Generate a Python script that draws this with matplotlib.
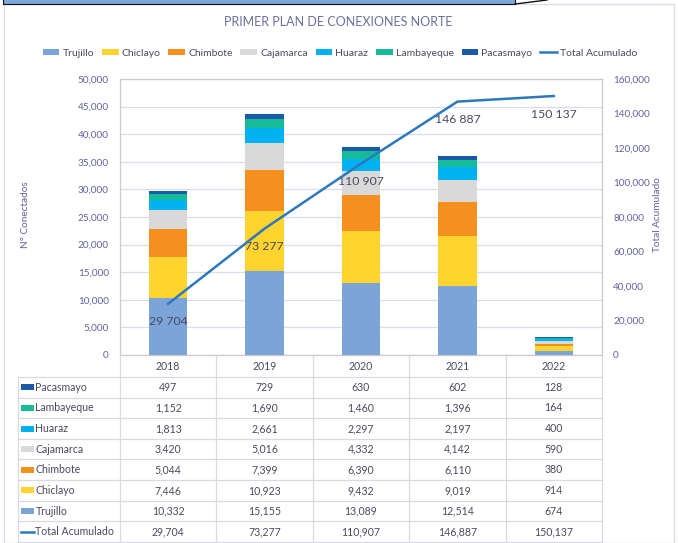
import matplotlib
matplotlib.use("Agg")
import matplotlib.pyplot as plt
import numpy as np
from matplotlib.patches import Rectangle, Patch
from matplotlib.lines import Line2D
from matplotlib.ticker import FuncFormatter, MultipleLocator

plt.rcParams['font.family'] = ['Lato', 'DejaVu Sans']

years = ['2018', '2019', '2020', '2021', '2022']
series_names = ['Trujillo', 'Chiclayo', 'Chimbote', 'Cajamarca', 'Huaraz', 'Lambayeque', 'Pacasmayo']
trujillo = [10332, 15155, 13089, 12514, 674]
chiclayo = [7446, 10923, 9432, 9019, 914]
chimbote = [5044, 7399, 6390, 6110, 380]
cajamarca = [3420, 5016, 4332, 4142, 590]
huaraz = [1813, 2661, 2297, 2197, 400]
lambayeque = [1152, 1690, 1460, 1396, 164]
pacasmayo = [497, 729, 630, 602, 128]
total_acumulado = [29704, 73277, 110907, 146887, 150137]

series_vals = [trujillo, chiclayo, chimbote, cajamarca, huaraz, lambayeque, pacasmayo]
colors = ['#7BA4D8', '#FFD42E', '#F5901F', '#D9D9D9', '#00B3F0', '#16BC9A', '#1B5AA8']
line_color = '#2E78BE'
tick_color = '#62629E'
text_color = '#4A4A60'
grid_color = '#DCDCE8'

W, H = 678, 543
def fx(px): return px / W
def fy(py): return 1 - py / H

fig = plt.figure(figsize=(W / 100, H / 100), dpi=100)

# decorations: frame and header band
fig.add_artist(Rectangle((fx(4), fy(543)), fx(674) - fx(4), fy(4) - fy(543),
                         transform=fig.transFigure, fill=False, edgecolor='#DCDCEB', lw=1.0))
fig.add_artist(Rectangle((fx(3), fy(4)), fx(515) - fx(3), fy(-2) - fy(4),
                         transform=fig.transFigure, facecolor='#7FA6D9', edgecolor='#111111', lw=0.8))
fig.add_artist(Line2D([fx(515), fx(547)], [fy(4), fy(0)], transform=fig.transFigure,
                      color='#111111', lw=1.0))

# main axes
ax = fig.add_axes([fx(120), fy(355), fx(602) - fx(120), (355 - 79) / H])
ax2 = ax.twinx()
x = np.arange(len(years))
bottom = np.zeros(len(years))
for name, vals, c in zip(series_names, series_vals, colors):
    ax.bar(x, vals, 0.4, bottom=bottom, color=c, label=name, zorder=3)
    bottom += np.array(vals)

ax.set_xlim(-0.5, len(years) - 0.5)
ax.set_ylim(0, 50000)
ax.yaxis.set_major_locator(MultipleLocator(5000))
ax.yaxis.set_major_formatter(FuncFormatter(lambda v, p: f"{v:,.0f}"))
ax.set_xticks(x)
ax.set_xticklabels([])
ax.tick_params(axis='both', length=0, labelsize=7.2, labelcolor=tick_color, pad=8)
ax.yaxis.grid(True, color=grid_color, lw=0.9, zorder=0)
ax.set_axisbelow(True)
for s in ax.spines.values():
    s.set_color('#C8C8D2')
    s.set_linewidth(0.9)

ax2.set_ylim(0, 160000)
ax2.yaxis.set_major_locator(MultipleLocator(20000))
ax2.yaxis.set_major_formatter(FuncFormatter(lambda v, p: f"{v:,.0f}"))
ax2.tick_params(axis='y', length=0, labelsize=7.2, labelcolor=tick_color, pad=8)
for s in ax2.spines.values():
    s.set_visible(False)
ax2.plot(x, total_acumulado, color=line_color, lw=1.8, zorder=5)
for xi, v in zip(x, total_acumulado):
    ax2.annotate(f"{v:,}".replace(',', ' '), (xi, v), xytext=(0, -18), textcoords='offset pixels',
                 ha='center', va='center', fontsize=8.8, color=text_color)

fig.text(fx(25), fy(215), 'N° Conectados', rotation=90, ha='center', va='center',
         fontsize=7.2, color=tick_color)
fig.text(fx(658), fy(215), 'Total Acumulado', rotation=90, ha='center', va='center',
         fontsize=7.2, color=tick_color)

fig.text(fx(338), fy(22), 'PRIMER PLAN DE CONEXIONES NORTE', ha='center', va='center',
         fontsize=9, color='#6F6FA0')

handles = [Patch(facecolor=c, edgecolor='none') for c in colors]
handles.append(Line2D([0], [0], color=line_color, lw=1.8))
labels = series_names + ['Total Acumulado']
fig.legend(handles, labels, loc='center', bbox_to_anchor=(fx(340), fy(53)), ncol=8,
           frameon=False, fontsize=7.5, handlelength=1.6, handleheight=0.5,
           handletextpad=0.3, columnspacing=0.75, labelcolor=text_color)

# data table
lblw = (120 - 18) / ((602 - 120) / len(years))
tax = fig.add_axes([fx(18), fy(542), fx(602) - fx(18), (542 - 355) / H])
tax.set_xlim(-0.5 - lblw, len(years) - 0.5)
tax.set_ylim(542, 355)
tax.axis('off')

row_names = ['Pacasmayo', 'Lambayeque', 'Huaraz', 'Cajamarca', 'Chimbote', 'Chiclayo', 'Trujillo', 'Total Acumulado']
row_vals = [pacasmayo, lambayeque, huaraz, cajamarca, chimbote, chiclayo, trujillo, total_acumulado]
row_cols = colors[::-1] + [line_color]
hdr_bottom = 377
row_h = (542 - hdr_bottom) / len(row_names)
tcol = '#D9D9E3'
xl = -0.5 - lblw
xr = len(years) - 0.5
for i in range(len(row_names) + 1):
    yy = hdr_bottom + i * row_h
    tax.plot([xl, xr], [yy, yy], color=tcol, lw=0.9, clip_on=False)
for b in np.arange(-0.5, len(years), 1.0):
    tax.plot([b, b], [355, 542], color=tcol, lw=0.9, clip_on=False)
tax.plot([xl, xl], [hdr_bottom, 542], color=tcol, lw=0.9, clip_on=False)

for xi, yr in zip(x, years):
    tax.text(xi, (355 + hdr_bottom) / 2 + 1, yr, ha='center', va='center', fontsize=7.6, color=text_color)

for i, (nm, vals, c) in enumerate(zip(row_names, row_vals, row_cols)):
    yc = hdr_bottom + (i + 0.5) * row_h
    if nm == 'Total Acumulado':
        tax.plot([xl + 0.03, xl + 0.17], [yc, yc], color=c, lw=1.8, clip_on=False)
    else:
        tax.add_patch(Rectangle((xl + 0.03, yc - 3), 0.14, 6, facecolor=c, edgecolor='none'))
    tax.text(xl + 0.18, yc, nm, ha='left', va='center', fontsize=7.6, color=text_color)
    for xi, v in zip(x, vals):
        tax.text(xi, yc, f"{v:,}", ha='center', va='center', fontsize=7.6, color=text_color)

fig.savefig('out.png', dpi=100)
